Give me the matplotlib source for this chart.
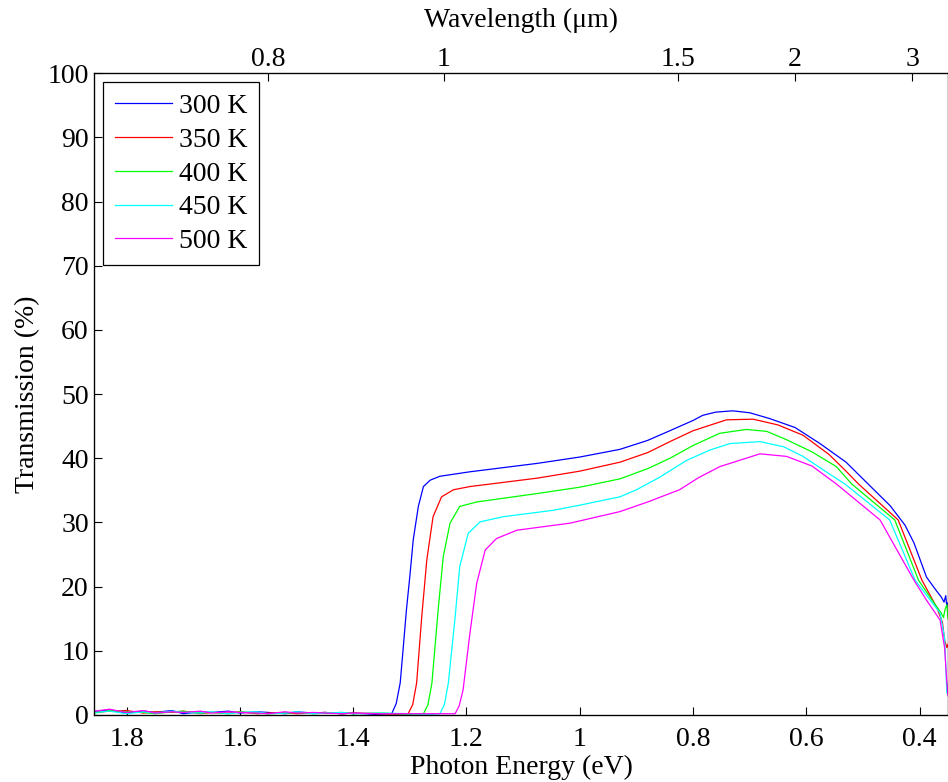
import matplotlib
matplotlib.use("Agg")
import matplotlib.pyplot as plt

plt.rcParams['font.family'] = ['Liberation Serif', 'DejaVu Serif']

HC = 1.2398  # eV*um

labels = ["300 K", "350 K", "400 K", "450 K", "500 K"]
colors = ["#0000ff", "#ff0000", "#00ff00", "#00ffff", "#ff00ff"]

e_300 = [1.857, 1.83, 1.80, 1.77, 1.75, 1.72, 1.70, 1.67, 1.65, 1.62, 1.60, 1.57, 1.55,
         1.52, 1.50, 1.47, 1.45, 1.42, 1.40, 1.36, 1.34, 1.332,
         1.324, 1.317, 1.312, 1.306, 1.300, 1.294, 1.285, 1.276, 1.264, 1.247, 1.194, 1.076,
         1.0, 0.929, 0.88, 0.841, 0.80, 0.783, 0.76, 0.73, 0.70, 0.665, 0.62, 0.576,
         0.53, 0.491, 0.452, 0.426, 0.41, 0.388, 0.37, 0.362, 0.357, 0.354, 0.352, 0.350]
t_300 = [0.5, 0.8, 0.3, 0.6, 0.4, 0.7, 0.2, 0.5, 0.4, 0.6, 0.3, 0.5, 0.4,
         0.2, 0.5, 0.3, 0.4, 0.2, 0.3, 0.1, 0.2, 0.2,
         1.8, 5.0, 10.1, 16.4, 21.6, 27.3, 32.5, 35.6, 36.6, 37.2, 37.9, 39.2,
         40.2, 41.4, 42.8, 44.3, 45.9, 46.7, 47.2, 47.4, 47.1, 46.2, 44.8, 42.3,
         39.4, 36.0, 32.6, 29.6, 26.8, 21.5, 19.3, 18.4, 17.6, 18.6, 16.8, 17.5]

e_350 = [1.857, 1.83, 1.80, 1.77, 1.75, 1.72, 1.70, 1.67, 1.65, 1.62, 1.60, 1.57, 1.55,
         1.52, 1.50, 1.47, 1.45, 1.42, 1.40, 1.35, 1.32, 1.303,
         1.295, 1.288, 1.279, 1.270, 1.259, 1.244, 1.223, 1.194, 1.076, 1.0, 0.929, 0.88,
         0.841, 0.80, 0.741, 0.694, 0.65, 0.606, 0.56, 0.53, 0.508, 0.438, 0.396,
         0.37, 0.360, 0.356, 0.352, 0.350]
t_350 = [0.4, 0.6, 0.7, 0.3, 0.5, 0.4, 0.6, 0.2, 0.4, 0.3, 0.5, 0.2, 0.3,
         0.4, 0.2, 0.3, 0.4, 0.2, 0.3, 0.2, 0.1, 0.2,
         1.6, 5.0, 15.3, 24.2, 30.9, 34.0, 35.1, 35.6, 36.9, 38.0, 39.4, 40.9,
         42.6, 44.3, 46.0, 46.1, 45.2, 43.6, 40.6, 38.0, 36.0, 30.4, 21.0,
         16.8, 14.5, 11.7, 10.5, 11.0]

e_400 = [1.857, 1.83, 1.80, 1.77, 1.75, 1.72, 1.70, 1.67, 1.65, 1.62, 1.60, 1.57, 1.55,
         1.52, 1.50, 1.47, 1.45, 1.42, 1.40, 1.35, 1.30, 1.276,
         1.268, 1.261, 1.250, 1.241, 1.229, 1.212, 1.182, 1.076, 1.0, 0.929, 0.88, 0.841,
         0.80, 0.753, 0.706, 0.67, 0.635, 0.59, 0.547, 0.520, 0.444, 0.402,
         0.375, 0.362, 0.358, 0.355, 0.352, 0.350]
t_400 = [0.3, 0.7, 0.5, 0.4, 0.2, 0.5, 0.6, 0.3, 0.4, 0.2, 0.5, 0.3, 0.2,
         0.3, 0.4, 0.2, 0.3, 0.4, 0.2, 0.3, 0.1, 0.2,
         1.6, 5.0, 16.4, 24.7, 29.9, 32.5, 33.2, 34.5, 35.5, 36.8, 38.4, 40.0,
         42.0, 43.9, 44.5, 44.2, 42.9, 41.0, 38.7, 36.0, 30.4, 21.0,
         17.5, 15.9, 15.2, 16.5, 17.2, 15.0]

e_450 = [1.857, 1.83, 1.80, 1.77, 1.75, 1.72, 1.70, 1.67, 1.65, 1.62, 1.60, 1.57, 1.55,
         1.52, 1.50, 1.47, 1.45, 1.42, 1.40, 1.35, 1.30, 1.26, 1.247,
         1.239, 1.232, 1.220, 1.212, 1.197, 1.176, 1.135, 1.047, 1.0, 0.929, 0.90, 0.86,
         0.811, 0.77, 0.735, 0.682, 0.64, 0.606, 0.56, 0.532, 0.453, 0.408,
         0.364, 0.356, 0.352, 0.350]
t_450 = [0.4, 0.6, 0.2, 0.5, 0.3, 0.6, 0.4, 0.3, 0.5, 0.2, 0.4, 0.5, 0.2,
         0.3, 0.5, 0.2, 0.3, 0.4, 0.2, 0.3, 0.2, 0.1, 0.2,
         1.6, 5.0, 15.3, 23.1, 28.3, 30.1, 30.9, 31.9, 32.7, 34.0, 35.1, 37.0,
         39.7, 41.3, 42.3, 42.6, 41.8, 40.3, 37.6, 36.0, 30.4, 21.0,
         15.9, 12.0, 3.4, 5.0]

e_500 = [1.857, 1.83, 1.80, 1.77, 1.75, 1.72, 1.70, 1.67, 1.65, 1.62, 1.60, 1.57, 1.55,
         1.52, 1.50, 1.47, 1.45, 1.42, 1.40, 1.35, 1.30, 1.25, 1.220,
         1.213, 1.206, 1.194, 1.182, 1.167, 1.147, 1.111, 1.017, 0.929, 0.88, 0.824,
         0.79, 0.753, 0.682, 0.635, 0.59, 0.547, 0.470, 0.41, 0.388, 0.364,
         0.356, 0.352, 0.350]
t_500 = [0.6, 0.9, 0.4, 0.7, 0.3, 0.5, 0.4, 0.6, 0.3, 0.5, 0.4, 0.3, 0.2,
         0.5, 0.3, 0.4, 0.3, 0.2, 0.3, 0.2, 0.2, 0.2, 0.2,
         1.4, 3.9, 12.7, 20.5, 25.7, 27.5, 28.8, 29.9, 31.7, 33.2, 35.1,
         37.0, 38.7, 40.7, 40.3, 38.8, 36.0, 30.4, 21.0, 17.9, 14.8,
         10.5, 5.0, 3.0]

energies = [e_300, e_350, e_400, e_450, e_500]
trans = [t_300, t_350, t_400, t_450, t_500]

wl_ticks = [0.8, 1, 1.5, 2, 3]
wl_labels = ["0.8", "1", "1.5", "2", "3"]
x_ticks = [1.8, 1.6, 1.4, 1.2, 1.0, 0.8, 0.6, 0.4]
x_tick_labels = ["1.8", "1.6", "1.4", "1.2", "1", "0.8", "0.6", "0.4"]
y_ticks = list(range(0, 101, 10))

W, H = 948, 782
fig = plt.figure(figsize=(W / 100, H / 100), dpi=100)
left, right, top, bottom = 94.3, 948.0, 73.3, 715.0
ax = fig.add_axes([left / W, (H - bottom) / H, (right - left) / W, (bottom - top) / H])

for e, t, c, lab in zip(energies, trans, colors, labels):
    ax.plot(e, t, color=c, lw=0.9, label=lab)

FS = 20
ax.set_xlim(1.857, 0.350)
ax.set_ylim(0, 100)
ax.set_xticks(x_ticks)
ax.set_xticklabels(x_tick_labels)
ax.set_yticks(y_ticks)
ax.tick_params(axis='both', direction='in', length=6, width=0.8, labelsize=FS,
               top=False, right=False)
ax.tick_params(axis='x', pad=9)
ax.tick_params(axis='y', pad=4)
for s in ax.spines.values():
    s.set_linewidth(0.9)
ax.set_xlabel("Photon Energy (eV)", fontsize=FS, labelpad=2)
ax.set_ylabel("Transmission (%)", fontsize=FS, labelpad=5.5)

ax2 = ax.twiny()
ax2.set_xlim(ax.get_xlim())
ax2.set_xticks([HC / w for w in wl_ticks])
ax2.set_xticklabels(wl_labels)
ax2.tick_params(axis='x', direction='in', length=6, width=0.8, labelsize=FS, pad=1)
ax2.set_xlabel("Wavelength (μm)", fontsize=FS, labelpad=14)

leg = ax.legend(loc='upper left', fontsize=FS, frameon=True, fancybox=False,
                edgecolor='black', framealpha=1, borderaxespad=0.33,
                handlelength=2.05, handletextpad=0.28, labelspacing=0.3,
                borderpad=0.4)
leg.get_frame().set_linewidth(0.9)

fig.savefig("out.png", dpi=100)
